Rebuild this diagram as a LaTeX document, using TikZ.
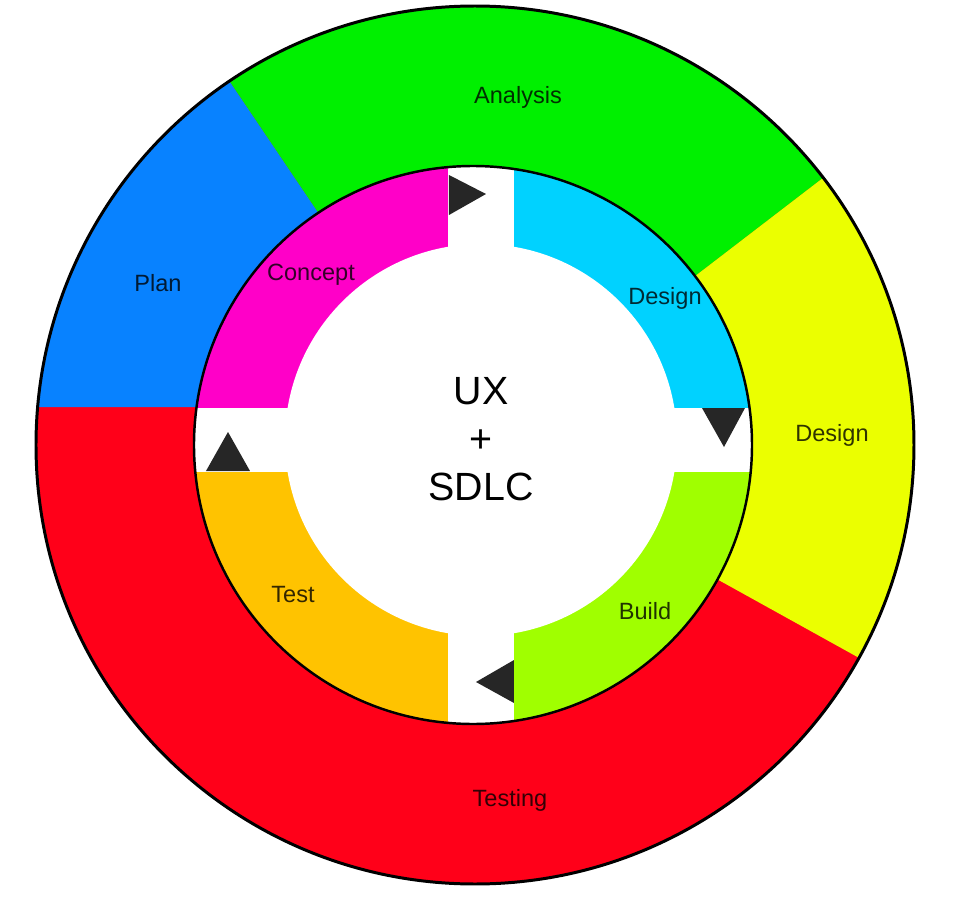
\documentclass[tikz,border=0pt]{standalone}
\usepackage{fontspec}
\setmainfont{Liberation Sans}
\definecolor{cPlan}{RGB}{8,130,255}
\definecolor{cAnalysis}{RGB}{0,240,0}
\definecolor{cDesignOut}{RGB}{235,255,0}
\definecolor{cTesting}{RGB}{255,0,25}
\definecolor{cConcept}{RGB}{255,0,200}
\definecolor{cDesignIn}{RGB}{0,210,255}
\definecolor{cBuild}{RGB}{160,255,0}
\definecolor{cTest}{RGB}{255,195,0}
\definecolor{cTri}{RGB}{38,38,38}
\tikzset{
  lbl/.style={font=\fontsize{13.4}{16}\selectfont, text=black, text opacity=0.8, inner sep=0pt},
  tri/.style={fill=cTri},
}
\begin{document}
\begin{tikzpicture}[x=0.02cm,y=0.02cm]
\useasboundingbox[fill=white] (-475,-455) rectangle (496,445);
% outer ring
\fill[cTesting] (0,0) circle (439);
\fill[cPlan] (-437.35,38) arc[start angle=175.03, end angle=124, radius=439] -- (0,0) -- (0,38) -- cycle;
\fill[cAnalysis] (0,0) -- (124:439) arc[start angle=124, end angle=37.5, radius=439] -- cycle;
\fill[cDesignOut] (0,0) -- (37.5:439) arc[start angle=37.5, end angle=-29, radius=439] -- cycle;
\draw[line width=1.7pt] (0,0) circle (439);
% inner ring
\fill[white] (-2,0) circle (279);
\begin{scope}
\clip (-2,0) circle (279);
\fill[cConcept] (-300,37) rectangle (-27,300);
\fill[cDesignIn] (39,37) rectangle (300,300);
\fill[cBuild] (39,-27) rectangle (300,-300);
\fill[cTest] (-300,-27) rectangle (-27,-300);
\fill[white] (6,5) circle (196);
\end{scope}
\draw[line width=1.4pt] (-2,0) circle (279);
% triangles
\fill[tri] (-26,270) -- (-26,230) -- (11,251) -- cycle;
\fill[tri] (227,37) -- (270,37) -- (249,-2) -- cycle;
\fill[tri] (39,-215) -- (39,-258) -- (1,-237) -- cycle;
\fill[tri] (-269,-26) -- (-225,-26) -- (-247,13) -- cycle;
% labels
\node[lbl] (analysis) at (43,348) {Analysis};
\node[lbl] (plan) at (-317,162) {Plan};
\node[lbl] (concept) at (-164,170) {Concept};
\node[lbl] (designin) at (190,147) {Design};
\node[lbl] (designout) at (357,10) {Design};
\node[lbl] (test) at (-182,-150) {Test};
\node[lbl] (build) at (170,-166) {Build};
\node[lbl] (testing) at (35,-355) {Testing};
\node[align=center, inner sep=0pt, font=\fontsize{22.4}{27.4}\selectfont] (center) at (6,6) {UX\\+\\SDLC};
\end{tikzpicture}
\end{document}
